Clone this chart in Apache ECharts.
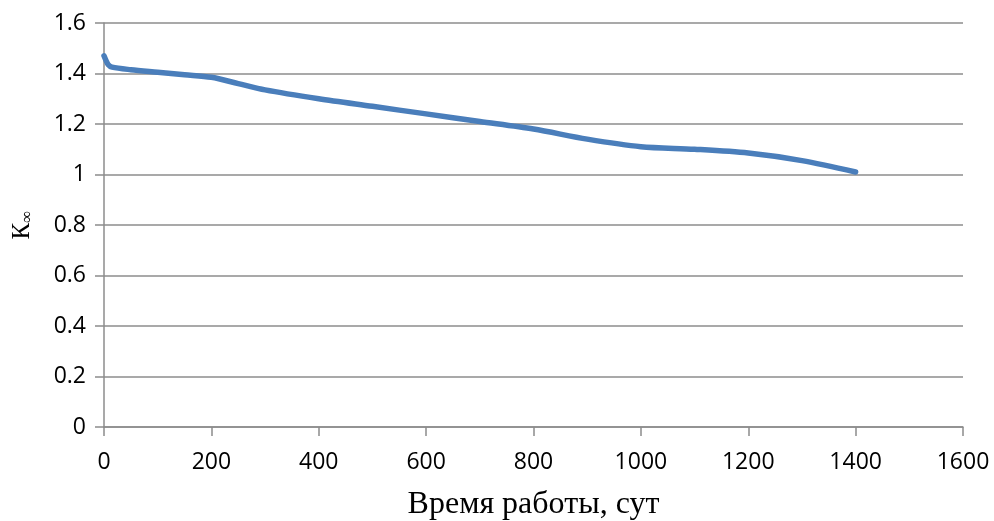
<!DOCTYPE html>
<html>
<head>
<meta charset="utf-8">
<script src="https://cdn.jsdelivr.net/npm/echarts@6/dist/echarts.min.js"></script>
<style>
  html, body { margin: 0; padding: 0; background: #fff; }
  #chart { width: 994px; height: 521px; }
</style>
</head>
<body>
<div id="chart"></div>
<script>
// время работы, сут
const days = [0, 3, 8, 15, 50, 100, 150, 200, 250, 300, 400, 500, 600, 700, 800, 900, 1000, 1100, 1200, 1300, 1400];
// коэффициент размножения
const kInf = [1.47, 1.455, 1.435, 1.425, 1.415, 1.405, 1.395, 1.385, 1.36, 1.335, 1.30, 1.27, 1.24, 1.21, 1.18, 1.14, 1.11, 1.10, 1.085, 1.055, 1.01];

const xTitle = 'Время работы, сут';

const chart = echarts.init(document.getElementById('chart'));

const gray = '#8c8c8c';
const labelFont = { color: '#000', fontFamily: 'Open Sans', fontSize: 23 };

chart.setOption({
  animation: false,
  grid: { left: 104, right: 31, top: 23, bottom: 94, outerBoundsMode: 'none', containLabel: false },
  xAxis: {
    type: 'value',
    min: 0, max: 1600, interval: 200,
    name: xTitle,
    nameLocation: 'middle',
    nameGap: 62,
    nameTextStyle: { color: '#000', fontFamily: 'Liberation Serif', fontSize: 32 },
    axisLine: { lineStyle: { color: gray, width: 1.5 } },
    axisTick: { show: true, length: 9, lineStyle: { color: gray, width: 1.5 } },
    axisLabel: Object.assign({ margin: 24, formatter: v => String(v) }, labelFont),
    splitLine: { show: false }
  },
  yAxis: {
    type: 'value',
    min: 0, max: 1.6, interval: 0.2,
    name: '{k|К}{s|∞}',
    nameLocation: 'middle',
    nameGap: 68,
    nameRotate: 90,
    nameTextStyle: {
      rich: {
        k: { fontFamily: 'Liberation Serif', fontSize: 25, color: '#000' },
        s: { fontFamily: 'Liberation Serif', fontSize: 17, color: '#000', verticalAlign: 'bottom', padding: [10, 0, 0, 0] }
      }
    },
    axisLine: { show: true, lineStyle: { color: gray, width: 1.5 } },
    axisTick: { show: true, length: 9, lineStyle: { color: gray, width: 1.5 } },
    axisLabel: Object.assign({ margin: 18, formatter: v => String(+v.toFixed(1)) }, labelFont),
    splitLine: { lineStyle: { color: gray, width: 1.5 } }
  },
  series: [{
    type: 'line',
    data: days.map((d, i) => [d, kInf[i]]),
    smooth: 0.3,
    showSymbol: false,
    lineStyle: { color: '#4a7ebb', width: 5.5, cap: 'round', join: 'round' }
  }]
});
</script>
</body>
</html>
